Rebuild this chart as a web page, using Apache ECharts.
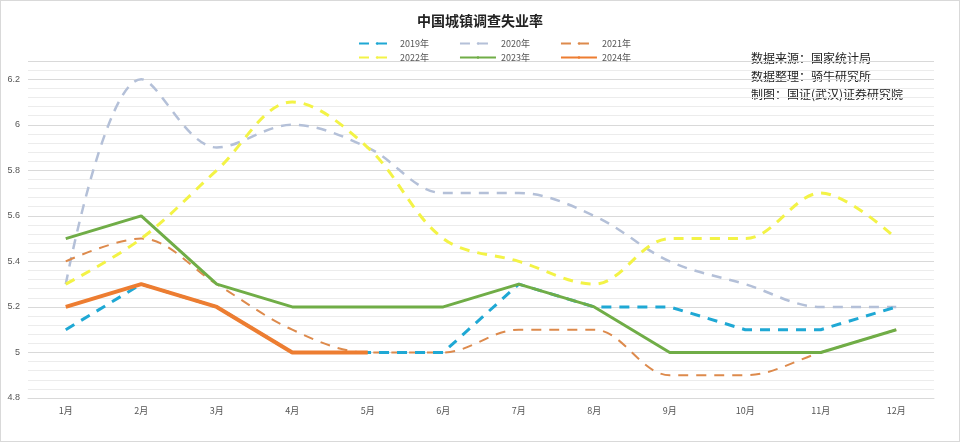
<!DOCTYPE html>
<html lang="zh">
<head>
<meta charset="UTF-8">
<title>中国城镇调查失业率</title>
<script src="https://cdn.jsdelivr.net/npm/echarts@6/dist/echarts.min.js"></script>
<style>body{margin:0}#main{width:958px;height:440px;border:1px solid #d9d9d9}</style>
</head>
<body>
<div id="main"></div>
<script>
var months = ['1月','2月','3月','4月','5月','6月','7月','8月','9月','10月','11月','12月'];
var y2019 = [5.1, 5.3, 5.2, 5.0, 5.0, 5.0, 5.3, 5.2, 5.2, 5.1, 5.1, 5.2];
var y2020 = [5.3, 6.2, 5.9, 6.0, 5.9, 5.7, 5.7, 5.6, 5.4, 5.3, 5.2, 5.2];
var y2021 = [5.4, 5.5, 5.3, 5.1, 5.0, 5.0, 5.1, 5.1, 4.9, 4.9, 5.0, 5.1];
var y2022 = [5.3, 5.5, 5.8, 6.1, 5.9, 5.5, 5.4, 5.3, 5.5, 5.5, 5.7, 5.5];
var y2023 = [5.5, 5.6, 5.3, 5.2, 5.2, 5.2, 5.3, 5.2, 5.0, 5.0, 5.0, 5.1];
var y2024 = [5.2, 5.3, 5.2, 5.0, 5.0];

var font = '"Noto Sans CJK SC", sans-serif';
function line(name, data, color, width, dashed, smooth, z) {
    return {
        name: name, type: 'line', data: data, smooth: smooth ? 0.35 : false,
        symbol: 'none', z: z,
        lineStyle: {color: color, width: width, type: dashed ? [10, 8] : 'solid'},
        itemStyle: {color: color}
    };
}
function legend(top, names) {
    return {top: top, left: 352, itemWidth: 36, itemHeight: 3, itemGap: 30,
        textStyle: {fontFamily: font, fontSize: 9, color: '#555', width: 40},
        data: names};
}
var myChart = echarts.init(document.getElementById('main'));
myChart.setOption({
    animation: false,
    title: {text: '中国城镇调查失业率', left: 'center', top: 8,
        textStyle: {fontFamily: font, fontSize: 14, fontWeight: 'bold', color: '#222'}},
    legend: [legend(33, ['2019年','2020年','2021年']), legend(47, ['2022年','2023年','2024年'])],
    graphic: [{type: 'text', left: 750, top: 48,
        style: {text: '数据来源：国家统计局\n数据整理：骑牛研究所\n制图：国证(武汉)证券研究院',
            font: '12px ' + font, fill: '#222', lineHeight: 18}}],
    grid: {left: 27, right: 25, top: 60, bottom: 43},
    xAxis: {type: 'category', data: months, boundaryGap: true,
        axisLine: {lineStyle: {color: '#d9d9d9'}}, axisTick: {show: false},
        axisLabel: {fontSize: 9, color: '#555', fontFamily: font}},
    yAxis: {type: 'value', min: 4.8, max: 6.28, interval: 0.2,
        axisLine: {show: false}, axisTick: {show: false},
        axisLabel: {fontSize: 9, color: '#555', showMaxLabel: false,
            formatter: function (v) { return String(+v.toFixed(1)); }},
        splitLine: {lineStyle: {color: '#d9d9d9'}},
        minorTick: {show: false, splitNumber: 5},
        minorSplitLine: {show: true, lineStyle: {color: '#ececec'}}},
    series: [
        line('2019年', y2019, '#1fa8d4', 3, true, false, 3),
        line('2020年', y2020, '#b4c0d8', 2.5, true, true, 2),
        line('2021年', y2021, '#dd8a4c', 2, true, true, 2),
        line('2022年', y2022, '#f3f346', 3, true, true, 2),
        line('2023年', y2023, '#70ad47', 3, false, false, 4),
        line('2024年', y2024, '#ed7d31', 4, false, false, 5)
    ]
});
</script>
</body>
</html>
